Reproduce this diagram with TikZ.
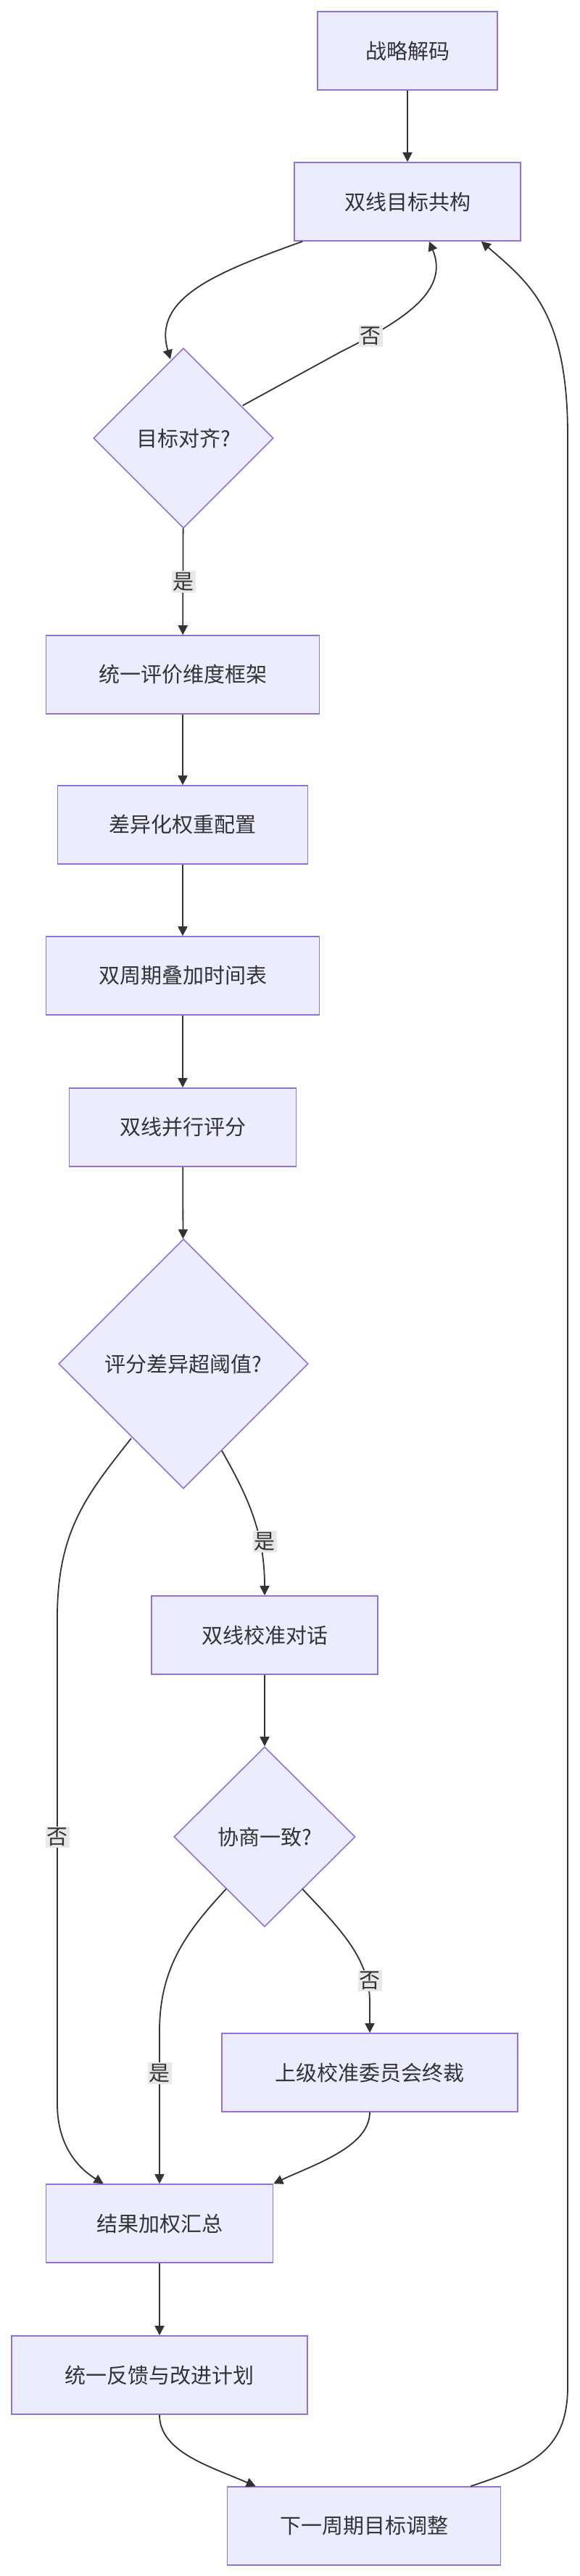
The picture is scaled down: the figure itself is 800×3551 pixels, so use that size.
\documentclass[tikz,border=0pt]{standalone}
\usepackage{fontspec}
\setmainfont{Noto Sans CJK SC}
\usetikzlibrary{shapes.geometric,arrows.meta,calc}
\definecolor{nfill}{HTML}{ECECFF}
\definecolor{nline}{HTML}{9370DB}
\definecolor{eline}{HTML}{333333}
\definecolor{lfill}{HTML}{E8E8E8}
\begin{document}
\begin{tikzpicture}[x=1pt,y=-1pt,
  box/.style={draw=nline,fill=nfill,line width=1.6pt,minimum height=108pt,inner sep=0pt,font=\fontsize{29}{34}\selectfont,text=eline},
  dia/.style={draw=nline,fill=nfill,line width=1.6pt,diamond,inner sep=0pt,font=\fontsize{29}{34}\selectfont,text=eline},
  e/.style={draw=eline,line width=1.8pt,-{Triangle[length=13pt,width=13pt]}},
  lab/.style={fill=lfill,inner sep=2pt,font=\fontsize{29}{34}\selectfont,text=eline}]
\useasboundingbox (0,0) rectangle (800,3551);
\node[box,minimum width=248pt] (a) at (562,70) {战略解码};
\node[box,minimum width=312pt] (b) at (562,278) {双线目标共构};
\node[dia,minimum width=248pt,minimum height=248pt] (c) at (253,604) {目标对齐?};
\node[box,minimum width=377pt] (d) at (252,930) {统一评价维度框架};
\node[box,minimum width=345pt] (f) at (252,1137) {差异化权重配置};
\node[box,minimum width=377pt] (g) at (252,1345) {双周期叠加时间表};
\node[box,minimum width=313pt] (h) at (252,1554) {双线并行评分};
\node[dia,minimum width=344pt,minimum height=344pt] (i) at (253,1880) {评分差异超阈值?};
\node[box,minimum width=312pt] (j) at (365,2254) {双线校准对话};
\node[dia,minimum width=250pt,minimum height=248pt] (k) at (365,2532) {协商一致?};
\node[box,minimum width=408pt] (l) at (510,2857) {上级校准委员会终裁};
\node[box,minimum width=313pt] (m) at (220,3065) {结果加权汇总};
\node[box,minimum width=408pt] (n) at (220,3274) {统一反馈与改进计划};
\node[box,minimum width=377pt] (o) at (502,3482) {下一周期目标调整};

\draw[e] (a) -- (b);
\draw[e] ($(b.south west)+(12,0)$) .. controls (300,375) and (210,410) .. ($(c.north)+(-18,16)$);
\draw[e] ($(c.east)+(-43,-45)$) -- (470,485) .. controls (560,440) and (620,400) .. ($(b.south)+(30,0)$);
\node[lab] (l1) at (511,463) {否};
\draw[e] (c) -- (d);
\node[lab] (l2) at (253,802) {是};
\draw[e] (d) -- (f);
\draw[e] (f) -- (g);
\draw[e] (g) -- (h);
\draw[e] (h) -- (i);
\draw[e] ($(i.south)+(-72,-70)$) .. controls (120,2060) and (79,2110) .. (79,2230) -- (79,2900) .. controls (79,2960) and (110,2990) .. ($(m.north west)+(80,0)$);
\node[lab] (l3) at (79,2532) {否};
\draw[e] ($(i.south)+(53,-53)$) .. controls (340,2060) and (365,2110) .. (j.north);
\node[lab] (l4) at (365,2125) {是};
\draw[e] (j) -- (k);
\draw[e] ($(k.south)+(-53,-53)$) .. controls (260,2660) and (220,2710) .. (220,2800) -- (m.north);
\node[lab] (l5) at (220,2858) {是};
\draw[e] ($(k.south)+(52,-53)$) .. controls (470,2660) and (510,2700) .. (510,2760) -- (l.north);
\node[lab] (l6) at (510,2730) {否};
\draw[e] (l.south) .. controls (510,2960) and (430,2985) .. ($(m.north east)+(0,0)$);
\draw[e] (n.south) .. controls (220,3380) and (290,3400) .. ($(o.north west)+(40,0)$);
\draw[e] (m) -- (n);
\draw[e] ($(o.north east)+(-42,0)$) .. controls (730,3400) and (783,3380) .. (783,3290) -- (783,600) .. controls (783,430) and (730,390) .. ($(b.south east)+(-55,0)$);
\end{tikzpicture}
\end{document}
